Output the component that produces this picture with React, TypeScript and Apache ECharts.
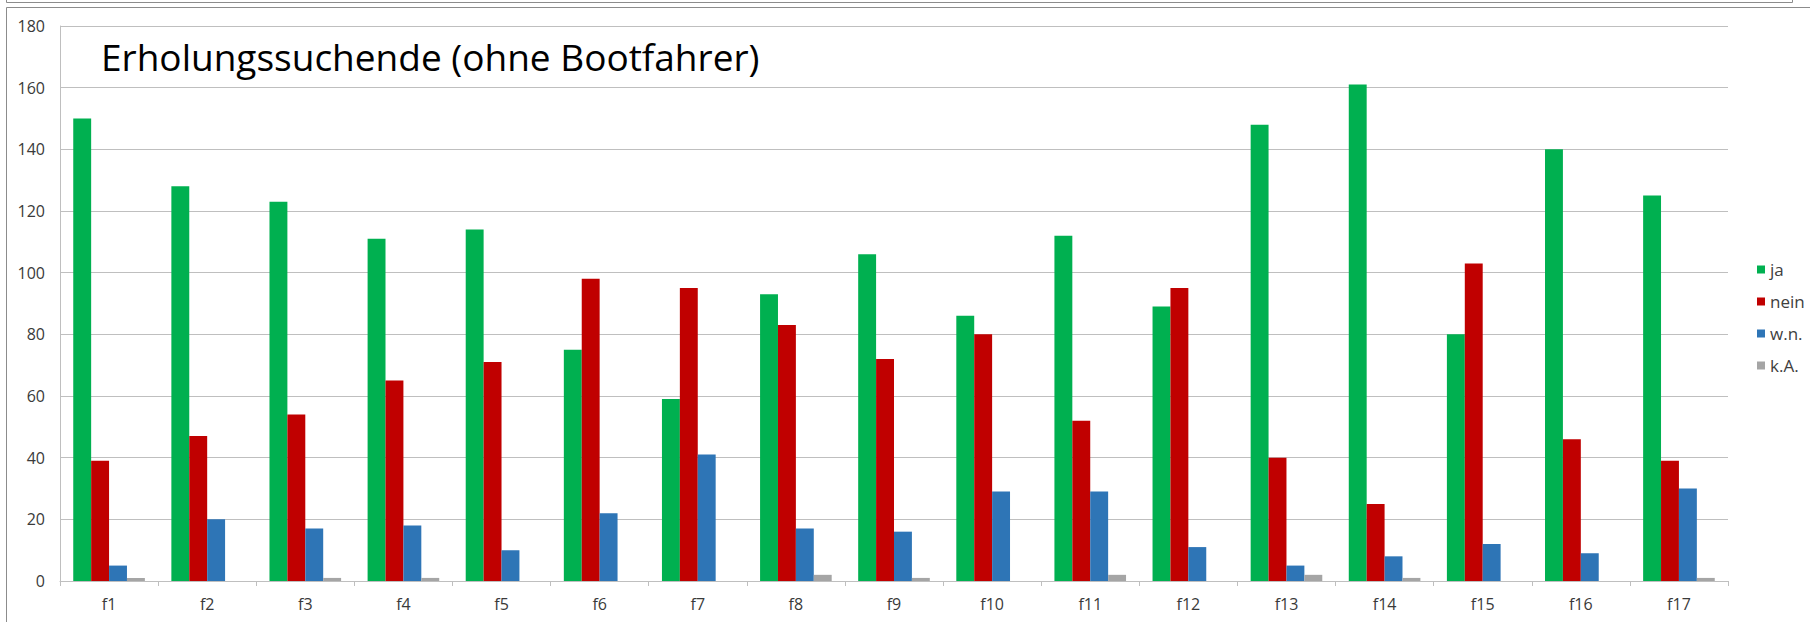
import React, { useEffect, useRef } from "react";
import * as echarts from "echarts";

const categories = ["f1", "f2", "f3", "f4", "f5", "f6", "f7", "f8", "f9", "f10", "f11", "f12", "f13", "f14", "f15", "f16", "f17"];
const ja = [150, 128, 123, 111, 114, 75, 59, 93, 106, 86, 112, 89, 148, 161, 80, 140, 125];
const nein = [39, 47, 54, 65, 71, 98, 95, 83, 72, 80, 52, 95, 40, 25, 103, 46, 39];
const wn = [5, 20, 17, 18, 10, 22, 41, 17, 16, 29, 29, 11, 5, 8, 12, 9, 30];
const kA = [1, 0, 1, 1, 0, 0, 0, 2, 1, 0, 2, 0, 2, 1, 0, 0, 1];
const seriesNames = ["ja", "nein", "w.n.", "k.A."];
const seriesColors = ["#00B050", "#C00000", "#2E75B6", "#A5A5A5"];
const titleText = "Erholungssuchende (ohne Bootfahrer)";

const FONT = "Open Sans";

export default function App() {
  const ref = useRef<HTMLDivElement>(null);
  useEffect(() => {
    if (!ref.current) return;
    const chart = echarts.init(ref.current, null, { renderer: "svg" });
    const data = [ja, nein, wn, kA];
    chart.setOption({
      animation: false,
      backgroundColor: "#ffffff",
      grid: { left: 60, right: 82, top: 26, bottom: 41, containLabel: false },
      legend: {
        orient: "vertical",
        left: 1757,
        top: 261,
        padding: 0,
        itemWidth: 8,
        itemHeight: 8,
        itemGap: 15,
        icon: "rect",
        data: seriesNames,
        textStyle: { fontFamily: FONT, fontSize: 17, color: "#404040", lineHeight: 17 },
      },
      xAxis: {
        type: "category",
        data: categories,
        boundaryGap: true,
        axisLine: { show: true, lineStyle: { color: "#BFBFBF", width: 1 } },
        axisTick: { show: true, length: 5, interval: 0, lineStyle: { color: "#BFBFBF" } },
        axisLabel: { interval: 0, margin: 15, fontFamily: FONT, fontSize: 16, color: "#3A3A3A" },
        splitLine: { show: false },
      },
      yAxis: {
        type: "value",
        min: 0,
        max: 180,
        interval: 20,
        axisLine: { show: true, lineStyle: { color: "#BFBFBF", width: 1 } },
        axisTick: { show: false },
        axisLabel: { margin: 15, fontFamily: FONT, fontSize: 16, color: "#3A3A3A" },
        splitLine: { show: true, lineStyle: { color: "#BFBFBF", width: 1 } },
      },
      series: seriesNames.map((name, i) => ({
        name,
        type: "bar",
        data: data[i],
        barGap: "0%",
        barCategoryGap: "27%",
        itemStyle: { color: seriesColors[i] },
      })),
      graphic: [
        {
          type: "rect",
          shape: { x: 6.5, y: -10, width: 1786, height: 12.5 },
          style: { fill: "none", stroke: "#8C8C8C", lineWidth: 1 },
          silent: true,
        },
        {
          type: "rect",
          shape: { x: 6.5, y: 7.5, width: 1830, height: 640 },
          style: { fill: "none", stroke: "#8C8C8C", lineWidth: 1 },
          silent: true,
        },
        {
          type: "text",
          x: 101,
          y: 56,
          style: {
            text: titleText,
            fontFamily: FONT,
            fontSize: 37,
            fill: "#000000",
            verticalAlign: "middle",
            align: "left",
          },
          silent: true,
        },
      ],
    });
    return () => chart.dispose();
  }, []);
  return <div ref={ref} style={{ position: "fixed", left: 0, top: 0, width: 1810, height: 622 }} />;
}
